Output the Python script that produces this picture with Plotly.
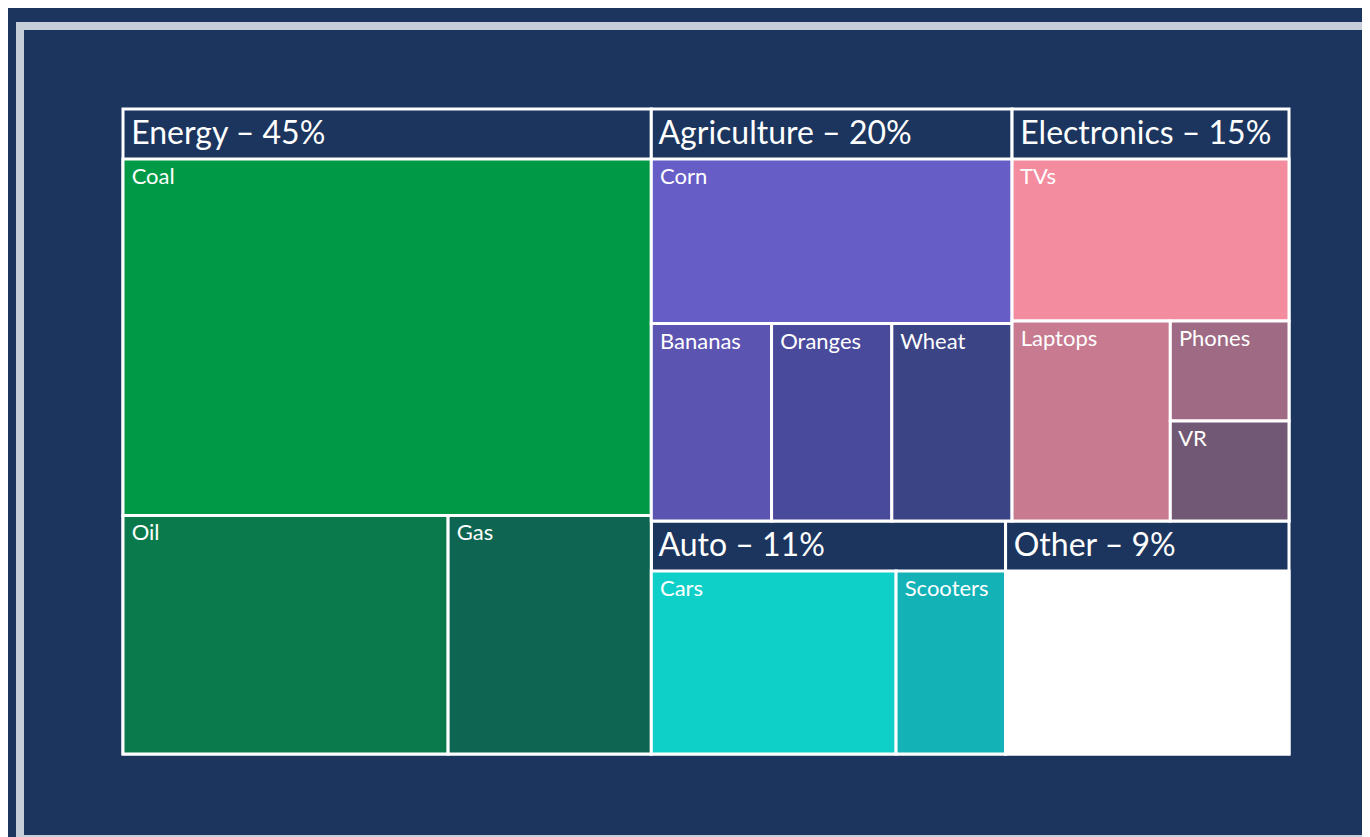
import plotly.graph_objects as go

sectors = ["Energy", "Agriculture", "Electronics", "Auto", "Other"]
sector_colors = ["#1c355e", "#1c355e", "#1c355e", "#1c355e", "#1c355e"]

items = ["Coal", "Oil", "Gas",
         "Corn", "Bananas", "Oranges", "Wheat",
         "TVs", "Laptops", "Phones", "VR",
         "Cars", "Scooters",
         ""]
item_parents = ["Energy", "Energy", "Energy",
                "Agriculture", "Agriculture", "Agriculture", "Agriculture",
                "Electronics", "Electronics", "Electronics", "Electronics",
                "Auto", "Auto",
                "Other"]
item_values = [27.2, 11.2, 7.0,
               9.0, 3.6, 3.6, 3.6,
               6.8, 4.8, 1.8, 1.8,
               7.6, 3.4,
               8.8]
item_colors = ["#009a46", "#0a7a4c", "#0e6652",
               "#675dc6", "#5b54b0", "#4a4a9c", "#3b4586",
               "#f48c9f", "#c77a90", "#9e6a84", "#715874",
               "#0fd0c9", "#12b2b6",
               "#ffffff"]

bg = "#1c355e"
nb = "\u00a0"

# header labels with share of total
sector_totals = [sum(v for v, p in zip(item_values, item_parents) if p == s) for s in sectors]
sector_text = [f"{nb}{s} – {round(t)}%" for s, t in zip(sectors, sector_totals)]

ids = sectors + [f"{p}/{c}" for p, c in zip(item_parents, items)]
labels = sector_text + [nb + c if c else "" for c in items]
parents = [""] * len(sectors) + item_parents
values = [0] * len(sectors) + item_values
colors = sector_colors + item_colors
sizes = [32] * len(sectors) + [22] * len(items)

# page has an 8px body offset, so positions below are shifted by -8px
W, H = 1370, 837
fig = go.Figure(go.Treemap(
    ids=ids,
    labels=labels,
    parents=parents,
    values=values,
    branchvalues="remainder",
    textinfo="label",
    textposition="top left",
    textfont=dict(family="Lato, Noto Sans, sans-serif", color="white", size=sizes),
    marker=dict(colors=colors, line=dict(color="white", width=3),
                pad=dict(t=50, l=0, r=0, b=0)),
    tiling=dict(pad=0),
    pathbar=dict(visible=False),
    sort=False,
    hoverinfo="label+value",
    domain=dict(x=[115 / W, 1281 / W], y=[1 - 746 / H, 1 - 51 / H]),
))

fig.add_shape(type="rect", xref="paper", yref="paper",
              x0=12 / W, x1=1.02, y0=1 - 831 / H, y1=1 - 18 / H,
              line=dict(color="#c5ced9", width=8), layer="below")

fig.update_layout(
    width=W,
    height=H,
    paper_bgcolor=bg,
    plot_bgcolor=bg,
    margin=dict(l=0, r=0, t=0, b=0),
    font=dict(family="Lato, Noto Sans, sans-serif", color="white"),
)

fig.write_html("out.html")
